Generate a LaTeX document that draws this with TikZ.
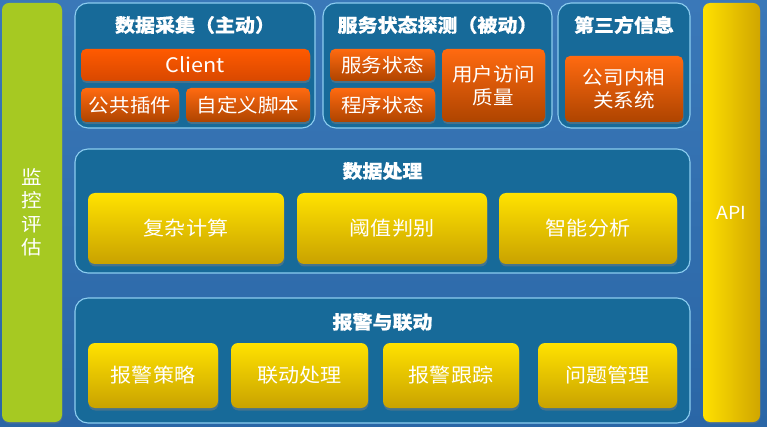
\documentclass[tikz,border=0pt]{standalone}
\usepackage{fontspec}
\setmainfont[FakeStretch=1.08]{Noto Sans CJK SC}
\usetikzlibrary{shadows}
\definecolor{bgtop}{HTML}{3A78B8}
\definecolor{bgmid}{HTML}{4A8ECB}
\definecolor{bgbot}{HTML}{2A66A6}
\definecolor{panelfill}{HTML}{176A99}
\definecolor{panelborder}{HTML}{8CCDF0}
\definecolor{barGreen}{HTML}{A6C922}
\definecolor{orTop}{HTML}{FF6A10}
\definecolor{orBot}{HTML}{AE4400}
\definecolor{clTop}{HTML}{FF5A00}
\definecolor{clBot}{HTML}{D84800}
\definecolor{yeTop}{HTML}{FFE200}
\definecolor{yeBot}{HTML}{C9A200}
\definecolor{apiL}{HTML}{FFE000}
\definecolor{apiR}{HTML}{D0A600}
\tikzset{
  panel/.style={draw=panelborder, line width=1.1pt, fill=panelfill, rounded corners=13pt, inner sep=0pt},
  ttl/.style={text=white, font=\bfseries\addfontfeature{FakeBold=0.5}\fontsize{18.5}{20}\selectfont, inner sep=0pt},
  obox/.style={rounded corners=5pt, top color=orTop, bottom color=orBot, text=white, inner sep=0pt,
    align=center, font=\fontsize{19}{23}\selectfont,
    drop shadow={shadow xshift=0.5pt, shadow yshift=-2pt, opacity=0.45}},
  cbox/.style={obox, top color=clTop, bottom color=clBot, font=\fontsize{20}{22}\selectfont},
  ybox/.style={rounded corners=7pt, top color=yeTop, bottom color=yeBot, text=white, inner sep=0pt,
    font=\fontsize{19.5}{22}\selectfont,
    drop shadow={shadow xshift=0.5pt, shadow yshift=-2.5pt, opacity=0.45}},
}
\begin{document}
\begin{tikzpicture}[x=1pt,y=-1pt]
\useasboundingbox (0,0) rectangle (767,427);
\shade[top color=bgtop, middle color=bgmid, bottom color=bgbot] (0,0) rectangle (767,427);
% side bars
\node[fill=barGreen, rounded corners=7pt, minimum width=60pt, minimum height=419pt, inner sep=0pt,
  drop shadow={shadow xshift=0.5pt, shadow yshift=-1.5pt, opacity=0.35}] (mon) at (32,212.5) {};
\node[text=white, align=center, font=\fontsize{19}{23.5}\selectfont, inner sep=0pt] (montxt) at (32,212.5) {监\\控\\评\\估};
\node[left color=apiL, right color=apiR, rounded corners=7pt, minimum width=57pt, minimum height=419pt, inner sep=0pt,
  drop shadow={shadow xshift=0.5pt, shadow yshift=-1.5pt, opacity=0.35}] (api) at (731.5,212.5) {};
\node[text=white, font=\fontsize{18}{20}\selectfont, inner sep=0pt] (apitxt) at (731.5,213) {API};
% top panels
\node[panel, minimum width=240pt, minimum height=125pt] (p1) at (195,65.5) {};
\node[ttl] (t1) at (195,25) {数据采集（主动）};
\node[cbox, minimum width=229pt, minimum height=32pt] (client) at (195.5,65) {Client};
\node[obox, minimum width=98pt, minimum height=34pt] (plug) at (130,105) {公共插件};
\node[obox, minimum width=124pt, minimum height=34pt] (script) at (248,105) {自定义脚本};
\node[panel, minimum width=229pt, minimum height=125pt] (p2) at (437.5,65.5) {};
\node[ttl] (t2) at (437.5,25) {服务状态探测（被动）};
\node[obox, minimum width=105pt, minimum height=32pt] (svc) at (382.5,65) {服务状态};
\node[obox, minimum width=105pt, minimum height=34pt] (proc) at (382.5,105) {程序状态};
\node[obox, minimum width=103pt, minimum height=73pt] (uq) at (493.5,85.5) {用户访问\\质量};
\node[panel, minimum width=132pt, minimum height=125pt] (p3) at (624,65.5) {};
\node[ttl] (t3) at (624,25) {第三方信息};
\node[obox, minimum width=118pt, minimum height=66pt] (corp) at (624,89) {公司内相\\关系统};
% middle panel
\node[panel, minimum width=615pt, minimum height=124pt] (pm) at (382.5,211) {};
\node[ttl] (tm) at (382.5,171) {数据处理};
\node[ybox, minimum width=196pt, minimum height=71pt] (y1) at (186,228.5) {复杂计算};
\node[ybox, minimum width=190pt, minimum height=71pt] (y2) at (392,228.5) {阈值判别};
\node[ybox, minimum width=178pt, minimum height=71pt] (y3) at (588,228.5) {智能分析};
% bottom panel
\node[panel, minimum width=615pt, minimum height=125pt] (pb) at (382.5,360.5) {};
\node[ttl] (tb) at (382.5,322) {报警与联动};
\node[ybox, minimum width=130pt, minimum height=65pt] (z1) at (153,375.5) {报警策略};
\node[ybox, minimum width=137pt, minimum height=65pt] (z2) at (299.5,375.5) {联动处理};
\node[ybox, minimum width=136pt, minimum height=65pt] (z3) at (451,375.5) {报警跟踪};
\node[ybox, minimum width=139pt, minimum height=65pt] (z4) at (607.5,375.5) {问题管理};
\end{tikzpicture}
\end{document}
